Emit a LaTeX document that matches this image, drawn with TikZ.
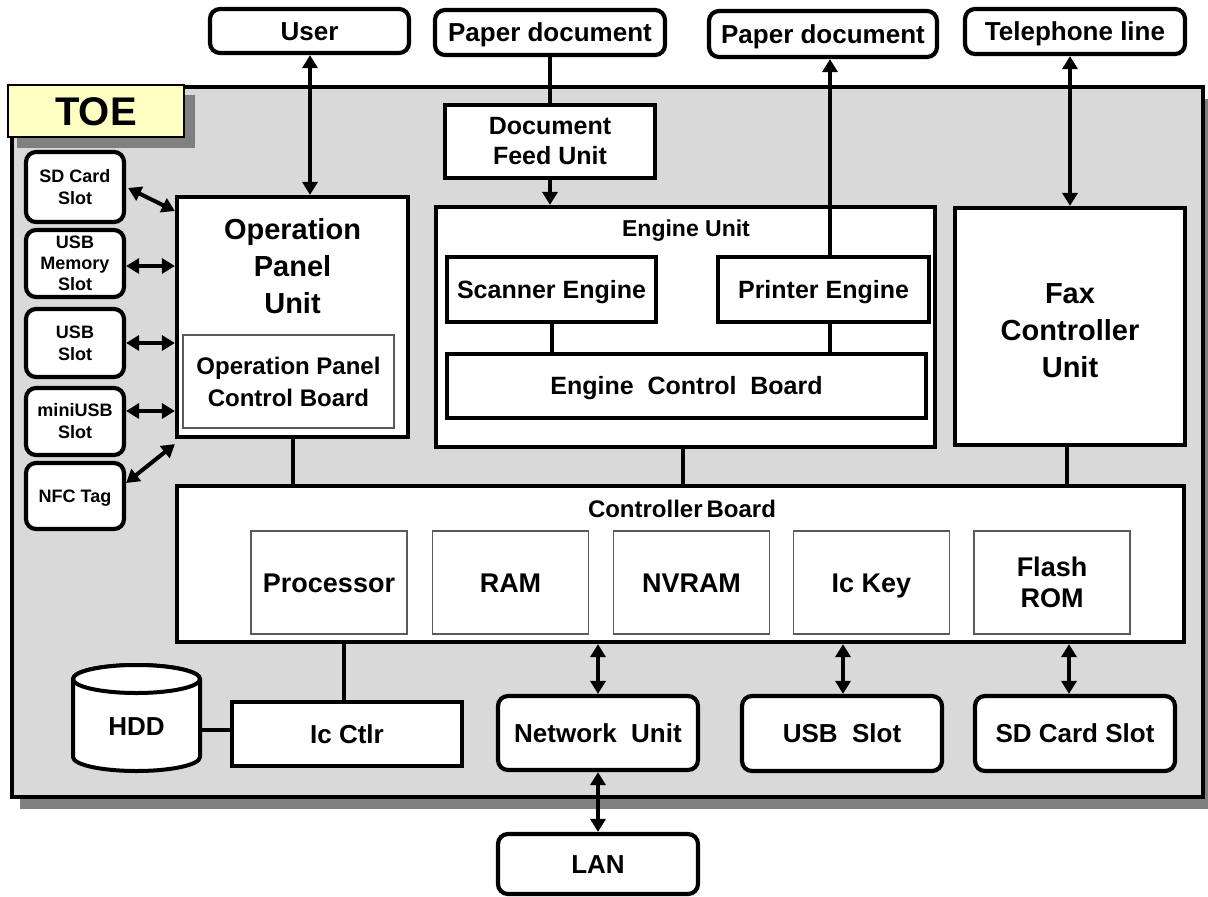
\documentclass[tikz,border=0pt]{standalone}
\usepackage{fontspec}
\setmainfont{Liberation Sans}
\usetikzlibrary{arrows.meta,calc}
\definecolor{toegray}{RGB}{217,217,217}
\definecolor{shadowgray}{RGB}{128,128,128}
\definecolor{toeyellow}{RGB}{255,255,196}
\definecolor{thinedge}{RGB}{90,90,90}
\newcommand{\fsz}[2]{\fontsize{#1}{#2}\selectfont}
\begin{document}
\begin{tikzpicture}[x=1pt,y=-1pt,
  bx/.style={draw, line width=4.2pt, fill=white, align=center, inner sep=0pt},
  rbx/.style={bx, rounded corners=10pt},
  tbx/.style={draw=thinedge, line width=1.4pt, fill=white, align=center, inner sep=0pt},
  conn/.style={line width=4pt},
  bi/.style={conn, {Triangle[length=13pt,width=15pt]}-{Triangle[length=13pt,width=15pt]}},
  uni/.style={conn, -{Triangle[length=13pt,width=15pt]}},
  f26/.style={font=\bfseries\fsz{26}{31}},
  one26/.style={f26, text height=18.6pt, text depth=0pt},
  one25/.style={font=\bfseries\fsz{25}{30}, text height=17.9pt, text depth=0pt},
  one27/.style={font=\bfseries\fsz{27}{31}, text height=19.3pt, text depth=0pt},
  f18/.style={font=\bfseries\fsz{18}{22}},
]
\useasboundingbox (0,0) rectangle (1208,897);

% TOE container with shadow
\fill[shadowgray] (20,99) rectangle (1211,809);
\draw[line width=3.6pt, fill=toegray] (12,87) rectangle (1203,797);

% TOE label
\fill[shadowgray] (17,95) rectangle (195,148);
\node[draw, line width=1.4pt, fill=toeyellow, minimum width=176, minimum height=52, inner sep=0pt,
      font=\bfseries\fsz{40}{44}, text height=28.6pt, text depth=0pt] (toe) at (96,111) {TOE};

% external boxes
\node[rbx, one26, minimum width=199, minimum height=44] (user) at (309.5,31) {User};
\node[rbx, one26, minimum width=230, minimum height=45] (p1) at (550,32.5) {Paper document};
\node[rbx, one26, minimum width=228, minimum height=46] (p2) at (823,34) {Paper document};
\node[rbx, one26, minimum width=220, minimum height=45] (tel) at (1075,31.5) {Telephone line};

% Operation panel unit
\node[bx, minimum width=231, minimum height=240] (opu) at (292.5,317) {};
\node[font=\bfseries\fsz{29}{37}, align=center, inner sep=0pt] (opulbl) at (292.5,266) {Operation\\Panel\\Unit};
\node[tbx, font=\bfseries\fsz{24}{32}, minimum width=211, minimum height=93] (opcb) at (288.5,381.5) {Operation Panel\\Control Board};

% left slots
\node[rbx, f18, minimum width=98, minimum height=70] (sd) at (75,187) {SD Card\\Slot};
\node[rbx, font=\bfseries\fsz{18}{21}, minimum width=98, minimum height=67] (usbm) at (75,263.5) {USB\\Memory\\Slot};
\node[rbx, f18, minimum width=98, minimum height=68] (usb) at (75,343) {USB\\Slot};
\node[rbx, f18, minimum width=98, minimum height=67] (mini) at (75,421.5) {miniUSB\\Slot};
\node[rbx, f18, text height=12.9pt, text depth=0pt, minimum width=98, minimum height=66] (nfc) at (75,496) {NFC Tag};

% document feed + engine unit
\node[bx, font=\bfseries\fsz{25}{30}, minimum width=210, minimum height=73] (dfu) at (550,141.5) {Document\\Feed Unit};
\node[bx, minimum width=499, minimum height=240] (eng) at (685.5,327) {};
\node[font=\bfseries\fsz{23}{27}, inner sep=0pt] (englbl) at (686,231) {Engine Unit};
\node[bx, one25, minimum width=209, minimum height=65] (scan) at (551.5,289.5) {Scanner Engine};
\node[bx, one25, minimum width=211, minimum height=65] (prn) at (823.5,289.5) {Printer Engine};
\node[bx, one25, minimum width=479, minimum height=64] (ecb) at (686.5,386) {Engine\ \ Control\ \ Board};

% fax
\node[bx, minimum width=230, minimum height=237] (fax) at (1070,326.5) {};
\node[font=\bfseries\fsz{29}{37}, align=center, inner sep=0pt] (faxlbl) at (1070,331) {Fax\\Controller\\Unit};

% controller board
\node[bx, minimum width=1007, minimum height=156] (cb) at (680.5,564) {};
\node[font=\bfseries\fsz{24}{28}, inner sep=0pt] (cblbl) at (682,509) {Controller\,Board};
\node[tbx, one27, minimum width=156, minimum height=103] (proc) at (329,582.5) {Processor};
\node[tbx, one27, minimum width=156, minimum height=103] (ram) at (510.5,582.5) {RAM};
\node[tbx, one27, minimum width=156, minimum height=103] (nvram) at (691.5,582.5) {NVRAM};
\node[tbx, one27, minimum width=156, minimum height=103] (ickey) at (871.5,582.5) {Ic Key};
\node[tbx, font=\bfseries\fsz{27}{31}, minimum width=156, minimum height=103] (flash) at (1052,582.5) {Flash\\ROM};

% HDD cylinder
\draw[line width=4pt, fill=white] (73,679) -- (73,757)
   arc[start angle=180, end angle=0, x radius=63.5, y radius=14] -- (200,679)
   arc[start angle=0, end angle=-180, x radius=63.5, y radius=14] -- cycle;
\draw[line width=4pt, fill=white] (136.5,679) ellipse [x radius=63.5, y radius=14];
\node[minimum width=127, minimum height=106, inner sep=0pt] (hdd) at (136.5,718) {};
\node[one26, inner sep=0pt] (hddlbl) at (136.5,726) {HDD};

% bottom boxes
\node[bx, one26, minimum width=230, minimum height=64] (ic) at (347,734) {Ic Ctlr};
\node[rbx, one26, minimum width=200, minimum height=74] (net) at (598,733) {Network\ \ Unit};
\node[rbx, one26, minimum width=200, minimum height=75] (usbs) at (842,733.5) {USB\ \ Slot};
\node[rbx, one26, minimum width=200, minimum height=75] (sds) at (1075,733.5) {SD Card Slot};
\node[rbx, one26, minimum width=200, minimum height=60] (lan) at (598,864) {LAN};

\coordinate (px) at (830,0);
\coordinate (sx) at (1069,0);

% connectors
\draw[bi] (user.south -| 310,0) -- (opu.north -| 310,0);
\draw[bi] ($(sd.east)+(2,1)$) -- (opu.west |- 0,211);
\draw[bi] (usbm.east |- 0,266) -- (opu.west |- 0,266);
\draw[bi] (usb.east) -- (usb.east -| opu.west);
\draw[bi] (mini.east |- 0,411) -- (opu.west |- 0,411);
\draw[bi] (nfc.east |- 0,483) -- ($(opu.south west)+(0,5)$);
\draw[conn] (opu.south) -- (opu.south |- cb.north);

\draw[conn] (p1.south) -- (dfu.north);
\draw[uni] (dfu.south) -- (dfu.south |- eng.north);
\draw[conn] (scan.south) -- (scan.south |- ecb.north);
\draw[conn] (prn.south -| px) -- (ecb.north -| px);
\draw[uni] (prn.north -| px) -- (p2.south -| px);
\draw[conn] (eng.south -| 683,0) -- (cb.north -| 683,0);

\draw[bi] (tel.south -| fax.north) -- (fax.north);
\draw[conn] (fax.south -| 1067,0) -- (cb.north -| 1067,0);

\draw[conn] (ic.north -| 344,0) -- (cb.south -| 344,0);
\draw[conn] (hdd.east |- 0,730) -- (ic.west |- 0,730);
\draw[bi] (cb.south -| net.north) -- (net.north);
\draw[bi] (cb.south -| 843,0) -- (usbs.north -| 843,0);
\draw[bi] (cb.south -| sx) -- (sds.north -| sx);
\draw[bi] (net.south) -- (lan.north);
\end{tikzpicture}
\end{document}
